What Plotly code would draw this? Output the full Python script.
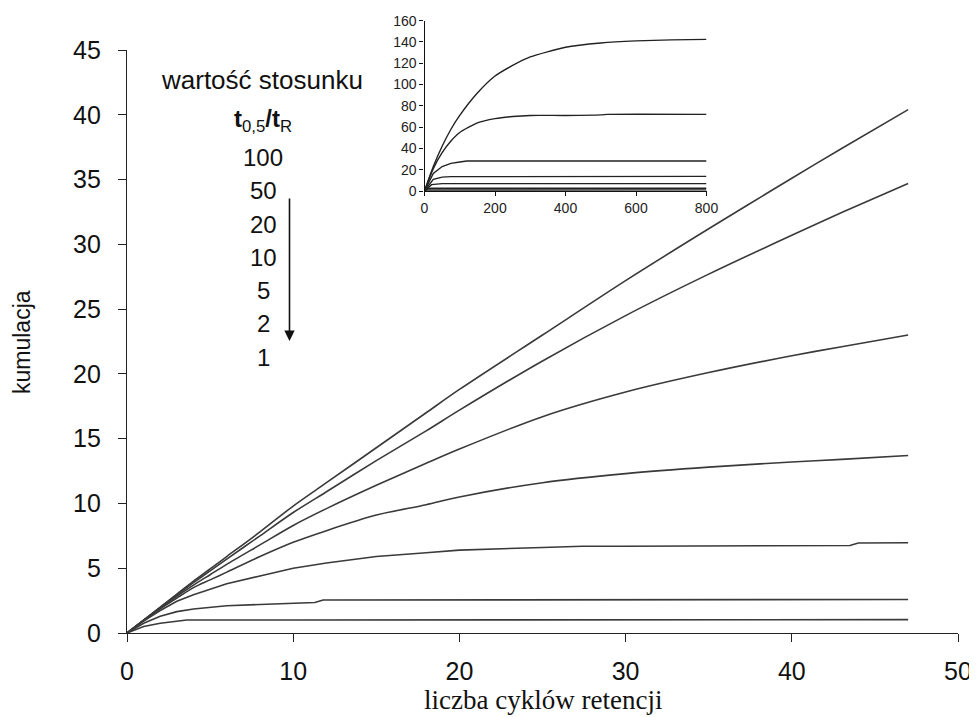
import plotly.graph_objects as go

# ---------------- data ----------------
ratios = ["100", "50", "20", "10", "5", "2", "1"]

# main chart: cumulation vs number of retention cycles
x_main = [0, 1, 2, 3, 4, 5, 6, 8, 10, 12, 15, 18, 20, 25, 30, 35, 40, 43, 47]
y_r100 = [0, 1.0, 2.0, 3.0, 4.0, 4.95, 5.9, 7.8, 9.8, 11.6, 14.3, 17.0, 18.8, 23.0, 27.2, 31.2, 35.1, 37.4, 40.4]
y_r50 = [0, 0.99, 1.97, 2.93, 3.88, 4.8, 5.7, 7.5, 9.3, 10.9, 13.3, 15.6, 17.2, 21.0, 24.5, 27.7, 30.7, 32.45, 34.7]
y_r20 = [0, 0.98, 1.93, 2.84, 3.7, 4.5, 5.3, 6.8, 8.3, 9.6, 11.4, 13.1, 14.2, 16.7, 18.6, 20.1, 21.4, 22.1, 23.0]
y_r10 = [0, 0.97, 1.87, 2.7, 3.5, 4.1, 4.7, 5.9, 7.0, 7.9, 9.1, 9.9, 10.5, 11.6, 12.3, 12.8, 13.2, 13.4, 13.7]

x_r5 = [0, 1, 2, 3, 4, 5, 6, 8, 10, 12, 15, 18, 20, 25, 27.4, 30, 35, 40, 43.5, 44, 47]
y_r5 = [0, 0.93, 1.74, 2.45, 2.95, 3.4, 3.8, 4.4, 5.0, 5.4, 5.9, 6.2, 6.4, 6.6, 6.7, 6.7, 6.7, 6.7, 6.75, 6.95, 6.97]

x_r2 = [0, 1, 2, 3, 4, 5, 6, 8, 10, 11.3, 11.8, 20, 30, 40, 47]
y_r2 = [0, 0.75, 1.3, 1.65, 1.85, 2.0, 2.1, 2.2, 2.3, 2.35, 2.55, 2.55, 2.55, 2.56, 2.58]

x_r1 = [0, 1, 2, 3, 3.6, 10, 20, 30, 40, 47]
y_r1 = [0, 0.5, 0.75, 0.88, 1.0, 1.0, 1.0, 1.0, 1.02, 1.03]

# inset: long-term behaviour up to 800 cycles
xi_r100 = [0, 25, 50, 75, 100, 150, 200, 250, 300, 400, 500, 600, 700, 800]
yi_r100 = [0, 23, 42, 58, 71, 92, 108, 118, 126, 135, 139, 141, 142, 142.5]
xi_r50 = [0, 25, 50, 75, 100, 150, 200, 250, 300, 400, 500, 520, 800]
yi_r50 = [0, 21, 36, 47, 55, 64, 68, 70, 71, 71, 71.5, 72, 72]
xi_r20 = [0, 25, 50, 75, 100, 120, 800]
yi_r20 = [0, 16.5, 23, 26, 27.3, 28.2, 28.2]
xi_r10 = [0, 25, 50, 75, 800]
yi_r10 = [0, 11, 13, 13.5, 13.7]
xi_r5 = [0, 20, 50, 800]
yi_r5 = [0, 6, 6.9, 6.9]
xi_r2 = [0, 10, 20, 800]
yi_r2 = [0, 2.3, 2.55, 2.58]
xi_r1 = [0, 4, 800]
yi_r1 = [0, 1.0, 1.03]

main_x = [x_main, x_main, x_main, x_main, x_r5, x_r2, x_r1]
main_y = [y_r100, y_r50, y_r20, y_r10, y_r5, y_r2, y_r1]
ins_x = [xi_r100, xi_r50, xi_r20, xi_r10, xi_r5, xi_r2, xi_r1]
ins_y = [yi_r100, yi_r50, yi_r20, yi_r10, yi_r5, yi_r2, yi_r1]

main_ticks_x = [0, 10, 20, 30, 40, 50]
main_ticks_y = [0, 5, 10, 15, 20, 25, 30, 35, 40, 45]
ins_ticks_x = [0, 200, 400, 600, 800]
ins_ticks_y = [0, 20, 40, 60, 80, 100, 120, 140, 160]

# ---------------- figure ----------------
OFF = 8  # page body margin in the browser
W, H = 977 - OFF, 717 - OFF
ML, MR, MT, MB = 127 - OFF, 19, 15 - OFF, 84
PW, PH = W - ML - MR, H - MT - MB

def px2paper_x(px):
    return (px - OFF - ML) / PW

def py2paper_y(py):
    return (H - MB - (py - OFF)) / PH

fig = go.Figure()
LINE_MAIN = "#3a3a3a"
for i, (xs, ys, r) in enumerate(zip(main_x, main_y, ratios)):
    smooth = i < 4
    fig.add_trace(go.Scatter(x=xs, y=ys, mode="lines", name=r,
                             line=dict(color=LINE_MAIN, width=1.6,
                                       shape="spline" if smooth else "linear",
                                       smoothing=0.8 if smooth else None),
                             xaxis="x", yaxis="y", showlegend=False))
for i, (xs, ys, r) in enumerate(zip(ins_x, ins_y, ratios)):
    smooth = i < 2
    fig.add_trace(go.Scatter(x=xs, y=ys, mode="lines", name=r,
                             line=dict(color="#222222", width=1.4,
                                       shape="spline" if smooth else "linear",
                                       smoothing=0.6 if smooth else None),
                             xaxis="x2", yaxis="y2", showlegend=False))

FONT = "Liberation Sans, Arial, sans-serif"
SERIF = "Liberation Serif, Times New Roman, serif"
main_top = py2paper_y(50)

fig.update_layout(
    width=W, height=H,
    margin=dict(l=ML, r=MR, t=MT, b=MB),
    paper_bgcolor="white", plot_bgcolor="white",
    font=dict(family=FONT, color="#111111"),
    xaxis=dict(range=[0, 50], tickvals=main_ticks_x, showgrid=False, zeroline=False,
               showline=True, linecolor="#222222", linewidth=1.3,
               ticks="outside", ticklen=8, tickwidth=1.3, tickcolor="#222222",
               tickfont=dict(size=25, family=FONT, color="#111111"),
               ticklabelstandoff=8, automargin=False,
               domain=[0, 1], anchor="y"),
    yaxis=dict(range=[0, 45], tickvals=main_ticks_y, showgrid=False, zeroline=False,
               showline=True, linecolor="#222222", linewidth=1.3,
               ticks="outside", ticklen=8, tickwidth=1.3, tickcolor="#222222",
               tickfont=dict(size=25, family=FONT, color="#111111"),
               ticklabelstandoff=12, automargin=False,
               domain=[0, main_top], anchor="x"),
    xaxis2=dict(range=[0, 800], tickvals=ins_ticks_x, showgrid=False, zeroline=False,
                showline=True, linecolor="#111111", linewidth=1.2,
                ticks="outside", ticklen=4, tickwidth=1.2, tickcolor="#111111",
                tickfont=dict(size=14, family=FONT, color="#222222"),
                automargin=False,
                domain=[px2paper_x(424.5), px2paper_x(706.5)], anchor="y2"),
    yaxis2=dict(range=[0, 160], tickvals=ins_ticks_y, showgrid=False, zeroline=False,
                showline=True, linecolor="#111111", linewidth=1.2,
                ticks="outside", ticklen=4, tickwidth=1.2, tickcolor="#111111",
                tickfont=dict(size=14, family=FONT, color="#222222"),
                automargin=False,
                domain=[py2paper_y(191), py2paper_y(20.7)], anchor="x2"),
)

# axis titles
fig.add_annotation(text="liczba cyklów retencji", x=px2paper_x(543), y=py2paper_y(700),
                   xref="paper", yref="paper", showarrow=False,
                   font=dict(size=27, family=SERIF, color="#111111"),
                   xanchor="center", yanchor="middle")
fig.add_annotation(text="kumulacja", x=px2paper_x(22), y=py2paper_y(342),
                   xref="paper", yref="paper", showarrow=False, textangle=-90,
                   font=dict(size=23, family=FONT, color="#111111"),
                   xanchor="center", yanchor="middle")

# legend-like text block
fig.add_annotation(text="wartość stosunku", x=px2paper_x(262), y=py2paper_y(80),
                   xref="paper", yref="paper", showarrow=False,
                   font=dict(size=26, family=FONT, color="#111111"),
                   xanchor="center", yanchor="middle")
fig.add_annotation(text="<b>t</b><sub>0,5</sub><b>/t</b><sub>R</sub>", x=px2paper_x(263),
                   y=py2paper_y(121), xref="paper", yref="paper", showarrow=False,
                   font=dict(size=24, family=FONT, color="#111111"),
                   xanchor="center", yanchor="middle")
num_y = [157, 190, 224, 257, 290, 323, 357]
for r, py in zip(ratios, num_y):
    fig.add_annotation(text=r, x=px2paper_x(263), y=py2paper_y(py), xref="paper", yref="paper",
                       showarrow=False, font=dict(size=24, family=FONT, color="#111111"),
                       xanchor="center", yanchor="middle")

# downward arrow
fig.add_annotation(x=px2paper_x(289.5), y=py2paper_y(341), xref="paper", yref="paper",
                   ax=0, ay=-(341 - 197), axref="pixel", ayref="pixel",
                   text="", showarrow=True, arrowhead=2, arrowsize=1.3, arrowwidth=1.6,
                   arrowcolor="#111111", standoff=0, startstandoff=0)

fig.write_html("out.html")
